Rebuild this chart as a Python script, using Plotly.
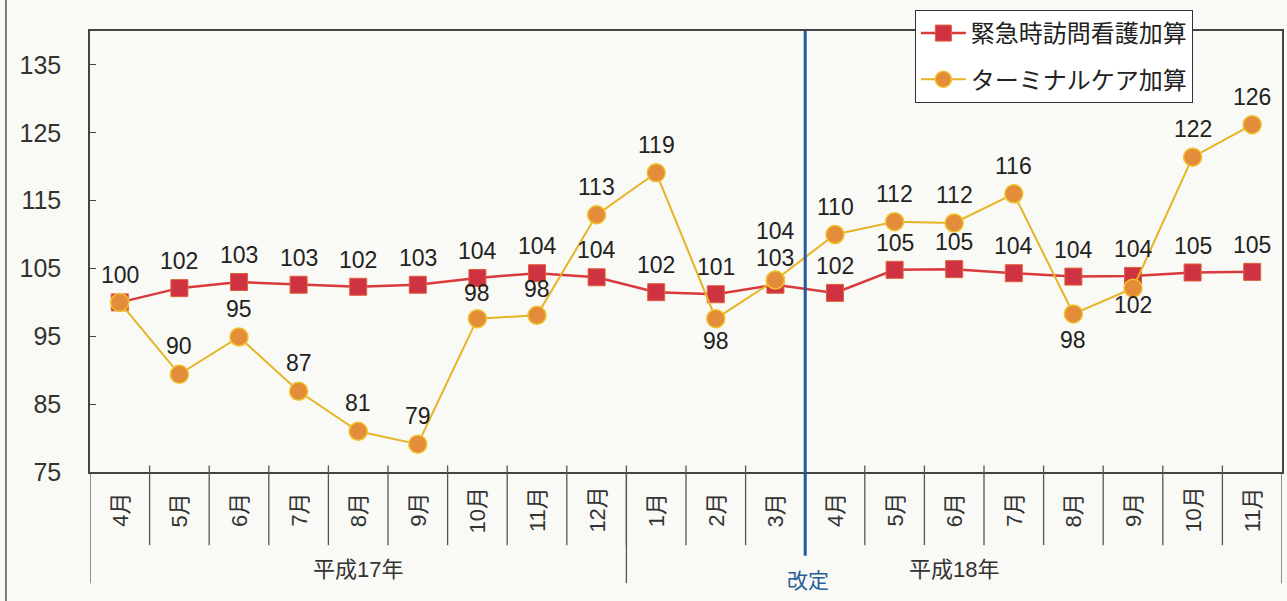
import plotly.graph_objects as go

months = ["4月", "5月", "6月", "7月", "8月", "9月", "10月", "11月", "12月",
          "1月", "2月", "3月", "4月", "5月", "6月", "7月", "8月", "9月", "10月", "11月"]
series_names = ["緊急時訪問看護加算", "ターミナルケア加算"]
emergency_vals = [100, 102.1, 103.0, 102.6, 102.3, 102.6, 103.6, 104.3, 103.7, 101.5,
                  101.2, 102.6, 101.4, 104.8, 104.9, 104.3, 103.8, 103.9, 104.4, 104.5]
emergency_labels = ["100", "102", "103", "103", "102", "103", "104", "104", "104", "102",
                    "101", "103", "102", "105", "105", "104", "104", "104", "105", "105"]
terminal_vals = [100, 89.4, 94.9, 86.9, 81.0, 79.1, 97.6, 98.1, 112.9, 119.1,
                 97.6, 103.3, 110.0, 111.9, 111.7, 116.0, 98.3, 102.1, 121.4, 126.2]
terminal_labels = ["", "90", "95", "87", "81", "79", "98", "98", "113", "119",
                   "98", "104", "110", "112", "112", "116", "98", "102", "122", "126"]
# label offsets (px) relative to marker
emergency_shift = [27] * 20
terminal_shift = [26, 28, 28, 28, 28, 28, 26, 26, 28, 28,
                  -22, 49, 28, 28, 28, 28, -26, -17, 28, 28]
year_groups = [("平成17年", 0, 8), ("平成18年", 9, 19)]
revision_label = "改定"
revision_after_index = 11
y_ticks = [75, 85, 95, 105, 115, 125, 135]

FONT = "Liberation Sans, Arial, Noto Sans CJK JP, sans-serif"
BG = "#f9f9f5"
x = list(range(len(months)))

fig = go.Figure()
fig.add_trace(go.Scatter(
    x=x, y=emergency_vals, mode="lines+markers", name=series_names[0],
    legendgroup="a",
    line=dict(color="#d8393a", width=2.5),
    marker=dict(symbol="square", size=17, color="#cf3341",
                line=dict(color="#e0603a", width=1)),
))
fig.add_trace(go.Scatter(
    x=x, y=terminal_vals, mode="lines+markers", name=series_names[1],
    legendgroup="b",
    line=dict(color="#e6b424", width=2),
    marker=dict(symbol="circle", size=18, color="#e38d3b",
                line=dict(color="#f0c22c", width=1.5)),
))

annotations = []
for i in x:
    annotations.append(dict(x=i, y=emergency_vals[i], xref="x", yref="y",
                            text=emergency_labels[i], showarrow=False,
                            yshift=emergency_shift[i], xanchor="center", yanchor="middle",
                            font=dict(family=FONT, size=23, color="#222")))
    if terminal_labels[i]:
        annotations.append(dict(x=i, y=terminal_vals[i], xref="x", yref="y",
                                text=terminal_labels[i], showarrow=False,
                                yshift=terminal_shift[i], xanchor="center", yanchor="middle",
                                font=dict(family=FONT, size=23, color="#222")))
    annotations.append(dict(x=i, y=-0.0862, xref="x", yref="paper",
                            text=months[i], textangle=-90, showarrow=False,
                            xanchor="center", yanchor="middle",
                            font=dict(family=FONT, size=22, color="#333")))

for name, a, b in year_groups:
    annotations.append(dict(x=(a + b) / 2, y=-0.222, xref="x", yref="paper",
                            text=name, showarrow=False, xanchor="center", yanchor="middle",
                            font=dict(family=FONT, size=22, color="#333")))
annotations.append(dict(x=revision_after_index + 0.55, y=-0.245, xref="x", yref="paper",
                        text=revision_label, showarrow=False, xanchor="center", yanchor="middle",
                        font=dict(family=FONT, size=21, color="#2a5d95")))

shapes = []
for i in range(1, len(months)):
    shapes.append(dict(type="line", xref="x", yref="paper", x0=i - 0.5, x1=i - 0.5,
                       y0=0.015, y1=-0.166, line=dict(color="#555", width=1.3)))
for xb in [-0.5, year_groups[1][1] - 0.5, len(months) - 0.5]:
    shapes.append(dict(type="line", xref="x", yref="paper", x0=xb, x1=xb,
                       y0=0, y1=-0.252, line=dict(color="#555", width=1.3)))
shapes.append(dict(type="line", xref="x", yref="paper",
                   x0=revision_after_index + 0.5, x1=revision_after_index + 0.5,
                   y0=1.0, y1=-0.19, line=dict(color="#1f5a9c", width=3)))
shapes.append(dict(type="line", xref="paper", yref="paper", x0=-0.0705, x1=-0.0705,
                   y0=-0.3, y1=1.08, line=dict(color="#555", width=1.5)))

fig.update_layout(
    width=1287, height=601,
    margin=dict(l=90, r=5, t=31, b=129, autoexpand=False),
    paper_bgcolor=BG, plot_bgcolor=BG,
    font=dict(family=FONT, color="#333"),
    showlegend=True,
    legend=dict(x=0.692, y=1.0476, xanchor="left", yanchor="top",
                bgcolor="#ffffff", bordercolor="#333", borderwidth=1,
                font=dict(family=FONT, size=24, color="#222"),
                tracegroupgap=12, traceorder="grouped", itemwidth=45),
    xaxis=dict(range=[-0.5, len(months) - 0.5], showticklabels=False, ticks="",
               showgrid=False, zeroline=False, showline=True, linecolor="#444",
               linewidth=1.5, mirror=True, fixedrange=True, automargin=False),
    yaxis=dict(range=[75, 140], tickvals=y_ticks, ticks="inside", ticklen=6,
               tickcolor="#444", showgrid=False, zeroline=False, showline=True,
               linecolor="#444", linewidth=1.5, mirror=True, automargin=False,
               tickfont=dict(family=FONT, size=25, color="#333"),
               ticklabelstandoff=22),
    annotations=annotations,
    shapes=shapes,
)

fig.write_html("out.html", config={"displayModeBar": False},
               post_script="document.body.style.margin='0';"
                           "document.body.style.background='" + BG + "';")
